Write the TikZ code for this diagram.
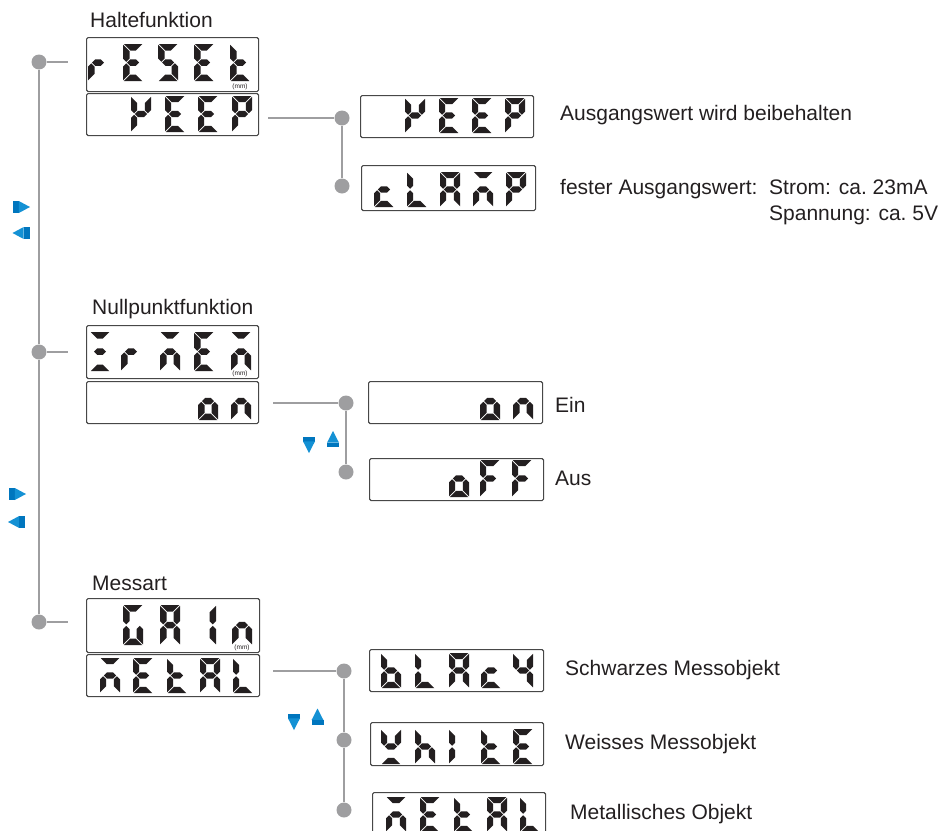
\documentclass[tikz,border=0pt]{standalone}
\usepackage{fontspec}
\setmainfont{Liberation Sans}
\definecolor{conn}{RGB}{158,158,160}
\definecolor{lcd}{RGB}{35,31,32}
\definecolor{keyblueA}{RGB}{0,118,190}
\definecolor{keyblueB}{RGB}{20,145,212}
\tikzset{
  dispbox/.style={draw=black!72, line width=1.1pt, rounded corners=1.5pt, inner sep=0pt, anchor=north west},
  dot/.style={circle, fill=conn, draw=none, minimum size=15pt, inner sep=0pt},
  conline/.style={draw=conn, line width=1.5pt},
  lbl/.style={font=\fontsize{21}{25}\selectfont, text=lcd, inner sep=0pt, anchor=base west},
  mmtxt/.style={font=\fontsize{6.5}{6.5}\selectfont, text=lcd, inner sep=0pt}
}
% seven-segment geometry
\def\sgG{0.75}
\newcommand\sgsetup[3]{\def\sgW{#1}\def\sgH{#2}\def\sgT{#3}}
\newcommand\segA{\fill[lcd] ({\sgG},0) -- ({\sgW-\sgG},0) -- ({\sgW-\sgT-\sgG},{\sgT}) -- ({\sgT+\sgG},{\sgT}) -- cycle;}
\newcommand\segD{\fill[lcd] ({\sgG},{\sgH}) -- ({\sgW-\sgG},{\sgH}) -- ({\sgW-\sgT-\sgG},{\sgH-\sgT}) -- ({\sgT+\sgG},{\sgH-\sgT}) -- cycle;}
\newcommand\segG{\fill[lcd] ({\sgT/2+\sgG},{\sgH/2}) -- ({\sgT+\sgG},{\sgH/2-\sgT/2}) -- ({\sgW-\sgT-\sgG},{\sgH/2-\sgT/2}) -- ({\sgW-\sgT/2-\sgG},{\sgH/2}) -- ({\sgW-\sgT-\sgG},{\sgH/2+\sgT/2}) -- ({\sgT+\sgG},{\sgH/2+\sgT/2}) -- cycle;}
\newcommand\segF{\fill[lcd] (0,{\sgG}) -- ({\sgT},{\sgT+\sgG}) -- ({\sgT},{\sgH/2-\sgT/2-\sgG}) -- ({\sgT/2},{\sgH/2-\sgG}) -- (0,{\sgH/2-\sgT/2-\sgG}) -- cycle;}
\newcommand\segE{\fill[lcd] (0,{\sgH-\sgG}) -- ({\sgT},{\sgH-\sgT-\sgG}) -- ({\sgT},{\sgH/2+\sgT/2+\sgG}) -- ({\sgT/2},{\sgH/2+\sgG}) -- (0,{\sgH/2+\sgT/2+\sgG}) -- cycle;}
\newcommand\segB{\fill[lcd] ({\sgW},{\sgG}) -- ({\sgW-\sgT},{\sgT+\sgG}) -- ({\sgW-\sgT},{\sgH/2-\sgT/2-\sgG}) -- ({\sgW-\sgT/2},{\sgH/2-\sgG}) -- ({\sgW},{\sgH/2-\sgT/2-\sgG}) -- cycle;}
\newcommand\segC{\fill[lcd] ({\sgW},{\sgH-\sgG}) -- ({\sgW-\sgT},{\sgH-\sgT-\sgG}) -- ({\sgW-\sgT},{\sgH/2+\sgT/2+\sgG}) -- ({\sgW-\sgT/2},{\sgH/2+\sgG}) -- ({\sgW},{\sgH/2+\sgT/2+\sgG}) -- cycle;}
\newcommand\glyph[3]{\begin{scope}[shift={(#1,#2)}]#3\end{scope}}
\newcommand\lcdA{\segA\segB\segC\segE\segF\segG}
\newcommand\lcdb{\segC\segD\segE\segF\segG}
\newcommand\lcdc{\segD\segE\segG}
\newcommand\lcdE{\segA\segD\segE\segF\segG}
\newcommand\lcdF{\segA\segE\segF\segG}
\newcommand\lcdG{\segA\segC\segD\segE\segF}
\newcommand\lcdh{\segC\segE\segF\segG}
\newcommand\lcdIl{\segE\segF}
\newcommand\lcdIr{\segB\segC}
\newcommand\lcdKa{\segB\segE\segF\segG}
\newcommand\lcdKb{\segB\segC\segF\segG}
\newcommand\lcdL{\segD\segE\segF}
\newcommand\lcdM{\segA\segC\segE\segG}
\newcommand\lcdn{\segC\segE\segG}
\newcommand\lcdo{\segC\segD\segE\segG}
\newcommand\lcdP{\segA\segB\segE\segF\segG}
\newcommand\lcdr{\segE\segG}
\newcommand\lcdS{\segA\segC\segD\segF\segG}
\newcommand\lcdt{\segD\segE\segF\segG}
\newcommand\lcdW{\segB\segD\segF\segG}
\newcommand\lcdZ{\segA\segD\segG}
\newcommand\dbox[5]{\node[dispbox, minimum width=#4pt, minimum height=#5pt] (#1) at (#2,#3) {};}
% key icons (top-left corner given)
\newcommand\keyright[2]{\begin{scope}[shift={(#1,#2)}]\fill[keyblueA] (0,0) rectangle (6,12);\fill[keyblueB] (5.8,0) -- (17,6) -- (5.8,12) -- cycle;\end{scope}}
\newcommand\keyleft[2]{\begin{scope}[shift={(#1,#2)}]\fill[keyblueB] (0,6) -- (11.2,0) -- (11.2,12) -- cycle;\fill[keyblueA] (11,0) rectangle (17,12);\end{scope}}
\newcommand\keydown[2]{\begin{scope}[shift={(#1,#2)}]\fill[keyblueA] (0,0) rectangle (12,4.5);\fill[keyblueB] (0,4.3) -- (12,4.3) -- (6,16) -- cycle;\end{scope}}
\newcommand\keyup[2]{\begin{scope}[shift={(#1,#2)}]\fill[keyblueB] (6,0) -- (12,11.7) -- (0,11.7) -- cycle;\fill[keyblueA] (0,11.5) rectangle (12,16);\end{scope}}
\begin{document}
\begin{tikzpicture}[x=1pt,y=-1pt]
\useasboundingbox (0,0) rectangle (942,830);
\clip (0,0) rectangle (942,830);

% ---------- section labels ----------
\node[lbl] (t1) at (90,27) {Haltefunktion};
\node[lbl] (t2) at (92,314) {Nullpunktfunktion};
\node[lbl] (t3) at (92,590) {Messart};

% ---------- display 1: rESEt ----------
\dbox{resetbox}{86}{37}{172}{54}
\sgsetup{20}{37}{6.5}
\glyph{88}{44}{\lcdr}\glyph{123}{44}{\lcdE}\glyph{158}{44}{\lcdS}\glyph{194}{44}{\lcdE}\glyph{230}{44}{\lcdt}
\node[mmtxt] (mm1) at (240,87) {(mm)};
% KEEP
\dbox{keepbox}{86}{93}{172}{42}
\sgsetup{20}{36}{6.2}
\glyph{131}{96}{\lcdKa}\glyph{165}{96}{\lcdE}\glyph{198}{96}{\lcdE}\glyph{232}{96}{\lcdP}
% KEEP right
\dbox{keepright}{360}{95}{173}{42}
\sgsetup{20}{35}{6.2}
\glyph{405}{98}{\lcdKa}\glyph{439}{98}{\lcdE}\glyph{472}{98}{\lcdE}\glyph{505}{98}{\lcdP}
% cLAMP
\dbox{clampbox}{361}{165}{174}{45}
\glyph{374}{172}{\lcdc}\glyph{407}{172}{\lcdL}\glyph{440}{172}{\lcdA}\glyph{473}{172}{\lcdM}\glyph{506}{172}{\lcdP}

% ---------- display 2: zero ----------
\dbox{zerobox}{86}{325}{172}{53}
\sgsetup{20}{39}{6.5}
\glyph{90}{332}{\lcdZ}\glyph{121}{332}{\lcdr}\glyph{160}{332}{\lcdM}\glyph{194}{332}{\lcdE}\glyph{231}{332}{\lcdM}
\node[mmtxt] (mm2) at (240,374) {(mm)};
\dbox{onbox}{86}{381}{172}{42}
\sgsetup{20}{38}{6.5}
\glyph{198}{382}{\lcdo}\glyph{231}{382}{\lcdn}
\dbox{onright}{368}{381}{174}{42}
\glyph{480}{382}{\lcdo}\glyph{513}{382}{\lcdn}
\dbox{offbox}{369}{458}{174}{42}
\sgsetup{20}{37}{6.2}
\glyph{449}{460}{\lcdo}\glyph{480}{460}{\lcdF}\glyph{512}{460}{\lcdF}

% ---------- display 3: gain ----------
\dbox{gainbox}{86}{598}{173}{54}
\sgsetup{20}{40}{6.5}
\glyph{123}{605}{\lcdG}\glyph{160}{605}{\lcdA}\glyph{196}{605}{\lcdIr}\glyph{232}{605}{\lcdn}
\node[mmtxt] (mm3) at (242,648) {(mm)};
\dbox{metalbox}{86}{654}{173}{42}
\sgsetup{20}{35}{6.2}
\glyph{100}{658}{\lcdM}\glyph{133}{658}{\lcdE}\glyph{167}{658}{\lcdt}\glyph{200}{658}{\lcdA}\glyph{233}{658}{\lcdL}
\dbox{blackbox}{369}{649}{174}{42}
\glyph{381}{653}{\lcdb}\glyph{415}{653}{\lcdL}\glyph{449}{653}{\lcdA}\glyph{481}{653}{\lcdc}\glyph{513}{653}{\lcdKb}
\dbox{whitebox}{370}{722}{173}{43}
\glyph{381}{729}{\lcdW}\glyph{415}{729}{\lcdh}\glyph{449}{729}{\lcdIl}\glyph{481}{729}{\lcdt}\glyph{513}{729}{\lcdE}
\dbox{metalbot}{372}{792}{173}{42}
\glyph{386}{797}{\lcdM}\glyph{420}{797}{\lcdE}\glyph{454}{797}{\lcdt}\glyph{487}{797}{\lcdA}\glyph{520}{797}{\lcdL}

% ---------- connectors ----------
\node[dot] (m1) at (39,62) {};
\node[dot] (m2) at (39,352) {};
\node[dot] (m3) at (39,622) {};
\coordinate (s1) at (68,62);
\coordinate (s2) at (68,352);
\coordinate (s3) at (68,622);
\draw[conline] (m1) -- (m2) -- (m3);
\draw[conline] (m1) -- (s1);
\draw[conline] (m2) -- (s2);
\draw[conline] (m3) -- (s3);

\node[dot] (r1) at (342,118) {};
\node[dot] (r2) at (342,186) {};
\coordinate (b1) at (268,118);
\draw[conline] (b1) -- (r1) -- (r2);

\node[dot] (n1) at (346,403) {};
\node[dot] (n2) at (346,472) {};
\coordinate (b2) at (273,403);
\draw[conline] (b2) -- (n1) -- (n2);

\node[dot] (g1) at (344,671) {};
\node[dot] (g2) at (344,740) {};
\node[dot] (g3) at (344,810) {};
\coordinate (b3) at (273,671);
\draw[conline] (b3) -- (g1) -- (g2) -- (g3);

% ---------- key icons ----------
\keyright{13}{201}
\keyleft{12.5}{227}
\keyright{9}{488}
\keyleft{8}{516}
\keydown{303}{437}
\keyup{327}{431}
\keydown{288}{714}
\keyup{311.5}{708.5}

% ---------- option labels ----------
\node[lbl] (o1) at (560,120) {Ausgangswert wird beibehalten};
\node[lbl] (o2) at (560,194) {fester Ausgangswert:};
\node[lbl] (o3) at (769,194) {Strom: ca.~23mA};
\node[lbl] (o4) at (769,220) {Spannung: ca.~5V};
\node[lbl] (o5) at (555,412) {Ein};
\node[lbl] (o6) at (555,485) {Aus};
\node[lbl] (o7) at (565,675) {Schwarzes Messobjekt};
\node[lbl] (o8) at (565,749) {Weisses Messobjekt};
\node[lbl] (o9) at (570,819) {Metallisches Objekt};
\end{tikzpicture}
\end{document}
